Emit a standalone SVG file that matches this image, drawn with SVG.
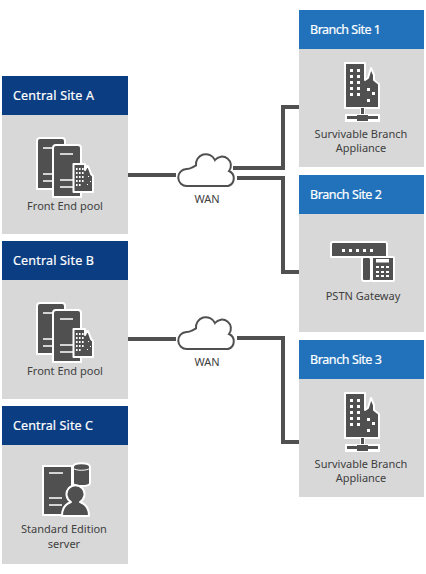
<svg xmlns="http://www.w3.org/2000/svg" width="426" height="574" viewBox="0 0 426 574">
<style>
.body{fill:#d8d8d8}
.ch{fill:#0b3d82}
.bh{fill:#2272bb}
.ht{font:400 12.500px "Noto Sans","Open Sans",sans-serif;fill:#fff;stroke:#fff;stroke-width:.2}
.lb{font:11px "Noto Sans","Open Sans",sans-serif;fill:#404040;text-anchor:middle}
.ln{fill:none;stroke:#505050;stroke-width:4}
.ic{fill:#505050;stroke:#fff;stroke-width:2;stroke-linejoin:round}
.w{fill:#fff}
.wl{stroke:#fff;stroke-width:1.3;fill:none}
.cl{fill:#fff;stroke:#505050;stroke-width:2}
</style>
<defs>
<g id="pool">
<path class="ic" d="M37 141q0-3 3-3h22q3 0 3 3v48H37z"/>
<path class="wl" d="M43 148h14M43 174h10M43 181h10"/>
<path class="ic" d="M53 148q0-3 3-3h22q3 0 3 3v49H53z"/>
<path class="wl" d="M60 154h13M60 180h13M60 187h13"/>
<path class="ic" d="M73.500 164h11.500v6l2-4 1 0 2 5 1 3 2 2v16H73.500z"/>
<path class="w" d="M76 168h1.600v2h-1.600zM79 168h1.600v2h-1.600zM82 168h1.600v2h-1.600zM76 172h1.600v2h-1.600zM79 172h1.600v2h-1.600zM82 172h1.600v2h-1.600zM76 176h1.600v2h-1.600zM79 176h1.600v2h-1.600zM82 176h1.600v2h-1.600zM76 180h1.600v2h-1.600zM79 180h1.600v2h-1.600zM82 180h1.600v2h-1.600zM76 184h1.600v2h-1.600zM79 184h1.600v2h-1.600zM88 176h1v1h-1zM90 181h1v1h-1zM87 184h1v1h-1z"/>
</g>
<g id="sba">
<path class="ic" d="M345 63h20v17l3-2 3-10 3 7v5l5 4v24h-34z"/>
<path class="w" d="M350 69h3v3h-3zM357 69h3v3h-3zM350 75h3v3h-3zM357 75h3v3h-3zM350 81h3v3h-3zM357 81h3v3h-3zM350 87h3v3h-3zM357 87h3v3h-3zM350 93h3v3h-3zM357 93h3v3h-3zM367 88h3v3h-3zM372 92h3v3h-3zM367 99h3v3h-3z"/>
<path fill="#fff" d="M360 108h5v6h-5z"/>
<path fill="#505050" d="M361 108h3v6h-3z"/>
<rect x="345" y="114" width="35" height="8" fill="#fff"/>
<path fill="#505050" d="M347 116h10v3h-10zM357 115h11v6h-11zM368 116h10v3h-10z"/>
</g>
<g id="cloud">
<path class="cl" d="M187 186a8.500 8.500 0 0 1-.5-17c2 0 4-.5 5.500-1.500l4-2a10 10 0 0 1 19-5.500a7.500 7.500 0 0 1 14 11a8 8 0 0 1-1 15z"/>
</g>
</defs>

<g id="connectors">
<path class="ln" d="M128 175H176"/>
<path class="ln" d="M233 168H283V107H299"/>
<path class="ln" d="M237 178H283V272H299"/>
<path class="ln" d="M128 339H176"/>
<path class="ln" d="M237 338H283V442H299"/>
</g>

<g id="central-a">
<rect class="body" x="2" y="115" width="126" height="119"/>
<rect class="ch" x="2" y="76" width="126" height="39"/>
<text class="ht" x="13" y="100" textLength="81">Central Site A</text>
<use href="#pool"/>
<text class="lb" x="65" y="210">Front End pool</text>
</g>
<g id="central-b">
<rect class="body" x="2" y="280" width="126" height="119"/>
<rect class="ch" x="2" y="241" width="126" height="39"/>
<text class="ht" x="13" y="265" textLength="81">Central Site B</text>
<use href="#pool" y="165"/>
<text class="lb" x="65" y="375">Front End pool</text>
</g>
<g id="central-c">
<rect class="body" x="2" y="445" width="126" height="119"/>
<rect class="ch" x="2" y="406" width="126" height="39"/>
<text class="ht" x="13" y="430" textLength="80">Central Site C</text>
<path class="ic" d="M43 466h29v49H43z"/>
<path class="wl" d="M49 473h14M49 498h13M49 505h13"/>
<path class="ic" d="M73 467c0-5 17-5 17 0v16c0 4-17 4-17 0z"/>
<path d="M73 468c2 3 15 3 17 0" stroke="#fff" stroke-width="1" fill="none"/>
<path class="ic" d="M62 516c0-10 6-13 9-14a9 9 0 1 1 9 0c3 1 9 4 9 14z"/>
<text class="lb" x="64" y="533">Standard Edition</text>
<text class="lb" x="64" y="548">server</text>
</g>
<g id="branch-1">
<rect class="body" x="299" y="49" width="125" height="118"/>
<rect class="bh" x="299" y="10" width="125" height="39"/>
<text class="ht" x="310" y="34" textLength="71">Branch Site 1</text>
<use href="#sba"/>
<text class="lb" x="361" y="138">Survivable Branch</text>
<text class="lb" x="361" y="152">Appliance</text>
</g>
<g id="branch-2">
<rect class="body" x="299" y="214" width="125" height="118"/>
<rect class="bh" x="299" y="175" width="125" height="39"/>
<text class="ht" x="310" y="199" textLength="72">Branch Site 2</text>
<path class="ic" d="M331 244q0-2 2-2h52q2 0 2 2v13H331z"/>
<path class="w" d="M342 249h3v3h-3zM349 249h3v3h-3zM356 249h3v3h-3zM363 249h3v3h-3zM370 249h3v3h-3z"/>
<path class="ic" d="M362 259q0-2 2-2h5q1 0 2 2v20q0 2-2 2h-5q-2 0-2-2z"/>
<path class="ic" d="M372 257h21q1 0 1 1v22q0 1-1 1h-21z"/>
<path class="w" d="M376 259h13v3.500h-13zM376 266h3v2h-3zM381 266h3v2h-3zM386 266h3v2h-3zM376 271h3v2h-3zM381 271h3v2h-3zM386 271h3v2h-3zM376 275h3v2h-3zM381 275h3v2h-3zM386 275h3v2h-3z"/>
<text class="lb" x="363" y="300">PSTN Gateway</text>
</g>
<g id="branch-3">
<rect class="body" x="299" y="379" width="125" height="118"/>
<rect class="bh" x="299" y="340" width="125" height="39"/>
<text class="ht" x="310" y="364" textLength="72">Branch Site 3</text>
<use href="#sba" y="330"/>
<text class="lb" x="361" y="468">Survivable Branch</text>
<text class="lb" x="361" y="482">Appliance</text>
</g>
<g id="wan-1">
<use href="#cloud"/>
<text class="lb" x="207" y="203">WAN</text>
</g>
<g id="wan-2">
<use href="#cloud" y="163"/>
<text class="lb" x="207" y="366">WAN</text>
</g>
</svg>
